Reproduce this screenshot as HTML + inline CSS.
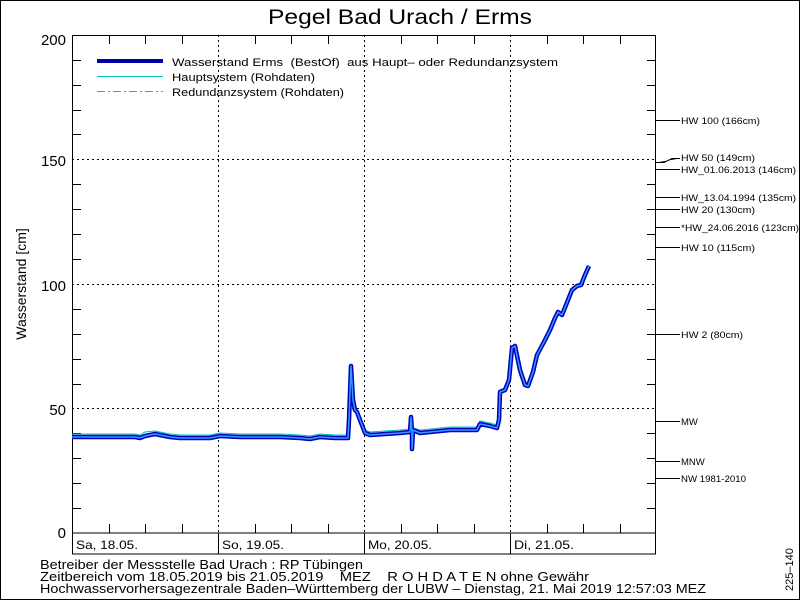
<!DOCTYPE html>
<html><head><meta charset="utf-8"><style>
html,body{margin:0;padding:0;background:#fff}
svg{display:block}
text{font-family:"Liberation Sans",sans-serif;fill:#000;white-space:pre}
</style></head><body>
<svg width="800" height="600" viewBox="0 0 800 600" xmlns="http://www.w3.org/2000/svg" xml:space="preserve">
<rect x="0.5" y="0.5" width="799" height="599" fill="#fff" stroke="#000"/>
<text x="268" y="24" font-size="21" textLength="264" lengthAdjust="spacingAndGlyphs">Pegel Bad Urach / Erms</text>
<g stroke="#000" stroke-width="1" stroke-dasharray="2,3">
<line x1="72" y1="159.5" x2="656" y2="159.5"/>
<line x1="72" y1="284.5" x2="656" y2="284.5"/>
<line x1="72" y1="408.5" x2="656" y2="408.5"/>
<line x1="218.5" y1="35" x2="218.5" y2="533"/>
<line x1="364.5" y1="35" x2="364.5" y2="533"/>
<line x1="510.5" y1="35" x2="510.5" y2="533"/>
</g>
<rect x="72.5" y="35.5" width="583" height="497.5" fill="none" stroke="#000"/>
<rect x="72.5" y="533" width="583" height="21" fill="none" stroke="#000"/>
<g stroke="#000">
<line x1="218.5" y1="533" x2="218.5" y2="554"/>
<line x1="364.5" y1="533" x2="364.5" y2="554"/>
<line x1="510.5" y1="533" x2="510.5" y2="554"/>
</g>
<g stroke="#000">
<path d="M72 60.5h9M72 85.5h9M72 110.5h9M72 134.5h9M72 184.5h9M72 209.5h9M72 234.5h9M72 259.5h9M72 309.5h9M72 334.5h9M72 359.5h9M72 384.5h9M72 433.5h9M72 458.5h9M72 483.5h9M72 508.5h9"/>
<path d="M656 60.5h-9M656 85.5h-9M656 110.5h-9M656 134.5h-9M656 184.5h-9M656 209.5h-9M656 234.5h-9M656 259.5h-9M656 309.5h-9M656 334.5h-9M656 359.5h-9M656 384.5h-9M656 433.5h-9M656 458.5h-9M656 483.5h-9M656 508.5h-9"/>
<path d="M109.5 35v9M145.5 35v9M182.5 35v9M255.5 35v9M291.5 35v9M328.5 35v9M401.5 35v9M437.5 35v9M474.5 35v9M547.5 35v9M583.5 35v9M620.5 35v9"/>
<path d="M109.5 533v-9M145.5 533v-9M182.5 533v-9M255.5 533v-9M291.5 533v-9M328.5 533v-9M401.5 533v-9M437.5 533v-9M474.5 533v-9M547.5 533v-9M583.5 533v-9M620.5 533v-9"/>
</g>
<g font-size="15" text-anchor="end">
<text x="66" y="45">200</text>
<text x="66" y="166">150</text>
<text x="66" y="291">100</text>
<text x="66" y="415">50</text>
<text x="66" y="538">0</text>
</g>
<text transform="translate(26,284) rotate(-90)" font-size="14" text-anchor="middle">Wasserstand [cm]</text>
<g font-size="12">
<text x="76" y="549" textLength="62" lengthAdjust="spacingAndGlyphs">Sa, 18.05.</text>
<text x="222" y="549" textLength="62" lengthAdjust="spacingAndGlyphs">So, 19.05.</text>
<text x="368" y="549" textLength="64" lengthAdjust="spacingAndGlyphs">Mo, 20.05.</text>
<text x="514" y="549" textLength="60" lengthAdjust="spacingAndGlyphs">Di, 21.05.</text>
</g>
<line x1="97" y1="61" x2="163" y2="61" stroke="#0000aa" stroke-width="4"/>
<line x1="97" y1="76.5" x2="163" y2="76.5" stroke="#00c0c0" stroke-width="1"/>
<line x1="97" y1="91.5" x2="163" y2="91.5" stroke="#00c0c0" stroke-width="1" stroke-dasharray="8,3,2,3"/>
<g font-size="11">
<text x="172" y="66" textLength="386" lengthAdjust="spacingAndGlyphs">Wasserstand Erms  (BestOf)  aus Haupt– oder Redundanzsystem</text>
<text x="172" y="81" textLength="143" lengthAdjust="spacingAndGlyphs">Hauptsystem (Rohdaten)</text>
<text x="172" y="96" textLength="172" lengthAdjust="spacingAndGlyphs">Redundanzsystem (Rohdaten)</text>
</g>
<g stroke="#000">
<path d="M656 120.5h24M656 162.5h8l8-4h8M656 169.5h24M656 197.5h24M656 209.5h24M656 227.5h24M656 247.5h24M656 334.5h24M656 421.5h24M656 461.5h24M656 478.5h24"/>
</g>
<g font-size="9.5">
<text x="681" y="124" textLength="79" lengthAdjust="spacingAndGlyphs">HW 100 (166cm)</text>
<text x="681" y="161" textLength="74" lengthAdjust="spacingAndGlyphs">HW 50 (149cm)</text>
<text x="681" y="173" textLength="115" lengthAdjust="spacingAndGlyphs">HW_01.06.2013 (146cm)</text>
<text x="681" y="201" textLength="115" lengthAdjust="spacingAndGlyphs">HW_13.04.1994 (135cm)</text>
<text x="681" y="213" textLength="74" lengthAdjust="spacingAndGlyphs">HW 20 (130cm)</text>
<text x="681" y="231" textLength="118" lengthAdjust="spacingAndGlyphs">*HW_24.06.2016 (123cm)</text>
<text x="681" y="251" textLength="74" lengthAdjust="spacingAndGlyphs">HW 10 (115cm)</text>
<text x="681" y="338" textLength="62" lengthAdjust="spacingAndGlyphs">HW 2 (80cm)</text>
<text x="681" y="425">MW</text>
<text x="681" y="465">MNW</text>
<text x="681" y="482" textLength="65" lengthAdjust="spacingAndGlyphs">NW 1981-2010</text>
</g>
<polyline fill="none" stroke="#00c0c0" stroke-width="1" points="72,434 135,434 140,435 145,432 155,431 170,434 180,435 210,435 220,433 240,434 280,434 300,435 310,436 320,434 335,435 348,435 349,418 351,366 353,398 355,408 357,410 360,418 365,430 370,432 400,430 410,429 413,428 420,430 440,428 450,427 477,427 480,421 490,423 497,425 499,418 500,390 505,388 509,378 512,346 515,344 520,368 525,383 528,384 533,370 537,353 545,338 550,328 555,316 558,310 562,313 568,298 572,288 577,284 581,283 585,273 589,265"/>
<polyline fill="none" stroke="#0000bb" stroke-width="4.5" stroke-linejoin="round" points="72,437 135,437 140,438 145,436 155,434 170,437 180,438 210,438 220,436 240,437 280,437 300,438 310,439 320,437 335,438 348,438 349,420 351,366 353,400 355,410 357,412 360,420 365,433 370,435 400,433 410,432 411,417 412,432 412,449 413,430 420,433 440,431 450,430 477,430 480,424 490,426 497,428 499,420 500,392 505,390 509,380 512,348 515,346 520,370 525,385 528,386 533,372 537,355 545,340 550,330 555,318 558,312 562,315 568,300 572,290 577,286 581,285 585,275 589,266"/>
<polyline fill="none" stroke="#3399ff" stroke-width="1.5" stroke-linejoin="round" points="72,437 135,437 140,438 145,436 155,434 170,437 180,438 210,438 220,436 240,437 280,437 300,438 310,439 320,437 335,438 348,438 349,420 351,366 353,400 355,410 357,412 360,420 365,433 370,435 400,433 410,432 411,417 412,432 412,449 413,430 420,433 440,431 450,430 477,430 480,424 490,426 497,428 499,420 500,392 505,390 509,380 512,348 515,346 520,370 525,385 528,386 533,372 537,355 545,340 550,330 555,318 558,312 562,315 568,300 572,290 577,286 581,285 585,275 589,266"/>
<g font-size="12.5" fill="#333">
<text x="40" y="569" textLength="323" lengthAdjust="spacingAndGlyphs">Betreiber der Messstelle Bad Urach : RP Tübingen</text>
<text x="40" y="581" textLength="549" lengthAdjust="spacingAndGlyphs">Zeitbereich vom 18.05.2019 bis 21.05.2019    MEZ    R O H D A T E N ohne Gewähr</text>
<text x="40" y="593" textLength="666" lengthAdjust="spacingAndGlyphs">Hochwasservorhersagezentrale Baden–Württemberg der LUBW – Dienstag, 21. Mai 2019 12:57:03 MEZ</text>
</g>
<text transform="translate(793,591) rotate(-90)" font-size="11">225–140</text>
</svg>
</body></html>
